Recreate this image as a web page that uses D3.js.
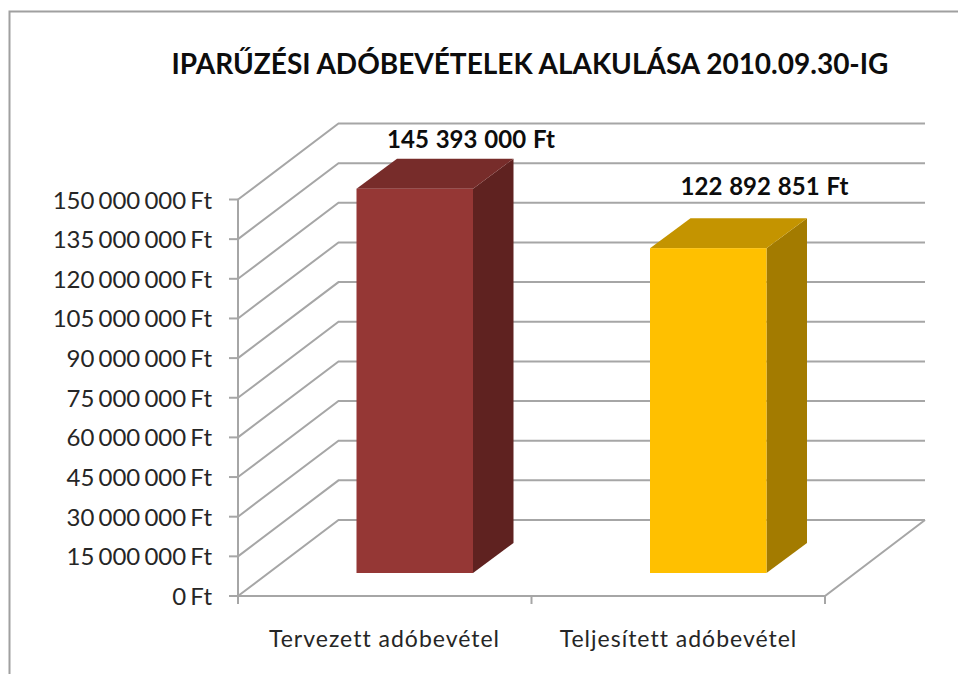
<!DOCTYPE html>
<html><head><meta charset="utf-8">
<script src="https://cdn.jsdelivr.net/npm/d3@7"></script>
<style>html,body{margin:0;padding:0;background:#fff}svg{display:block}text{font-family:Lato,"Open Sans",sans-serif}</style>
</head><body><svg id="c" width="958" height="674"></svg>
<script>
const titleText = "IPARŰZÉSI ADÓBEVÉTELEK ALAKULÁSA 2010.09.30-IG";
const categories = ["Tervezett adóbevétel", "Teljesített adóbevétel"];
const values = [145393000, 122892851];
const valueLabels = ["145 393 000 Ft", "122 892 851 Ft"];
const tickValues = [0,15,30,45,60,75,90,105,120,135,150].map(d => d*1e6);
const tickLabels = ["0 Ft","15 000 000 Ft","30 000 000 Ft","45 000 000 Ft","60 000 000 Ft","75 000 000 Ft","90 000 000 Ft","105 000 000 Ft","120 000 000 Ft","135 000 000 Ft","150 000 000 Ft"];
const frontColors = ["#953735","#FFC000"];
const topColors = ["#772C2A","#C49400"];
const sideColors = ["#5F2220","#A37B00"];

const svg = d3.select("#c");
const gridCol = "#a6a6a6";
const y = d3.scaleLinear().domain([0,150e6]).range([596,199.5]);
const x = d3.scaleBand().domain(categories).range([238,825]);
const depth = {dx:100.5, dy:-76};
const barDepth = {dx:40.5, dy:-30};
const floorShift = {dx:30, dy:-23}; // bar front sits inside the floor
const barW = 116.5;

// frame
svg.append("path").attr("d","M9.5,674V11.5H958").attr("fill","none").attr("stroke","#a0a0a0").attr("stroke-width",2);

// gridlines + wall diagonals
const g = svg.append("g").attr("fill","none").attr("stroke",gridCol).attr("stroke-width",2);
g.selectAll("path.g").data(tickValues).join("path").attr("class","g")
 .attr("d",d=>`M238,${y(d)}L${238+depth.dx},${y(d)+depth.dy}H925`);
// floor
g.append("path").attr("d",`M238,${y(0)}H825L925,${y(0)+depth.dy}`);
g.append("path").attr("d",`M238,${y(150e6)}V604`);
// ticks
g.selectAll("path.t").data(tickValues).join("path").attr("class","t")
 .attr("d",d=>`M229,${y(d)}H238`);
g.selectAll("path.xt").data([x(categories[1]),825]).join("path").attr("class","xt")
 .attr("d",d=>`M${d},596V604`);

// bars
const bars = svg.append("g");
categories.forEach((c,i)=>{
  const bx = x(c)+ (x.bandwidth()-barW)/2 + floorShift.dx;
  const h = y(0)-y(values[i]);
  const base = y(0)+floorShift.dy;
  const top = base-h;
  const gb = bars.append("g");
  gb.append("path").attr("fill",sideColors[i])
    .attr("d",`M${bx+barW},${top}l${barDepth.dx},${barDepth.dy}V${base+barDepth.dy}L${bx+barW},${base}Z`);
  gb.append("path").attr("fill",topColors[i])
    .attr("d",`M${bx},${top}l${barDepth.dx},${barDepth.dy}H${bx+barW+barDepth.dx}L${bx+barW},${top}Z`);
  gb.append("rect").attr("x",bx).attr("y",top).attr("width",barW).attr("height",h).attr("fill",frontColors[i]);
});

// axis labels
svg.append("g").selectAll("text").data(tickValues).join("text")
 .attr("x",212).attr("y",d=>y(d)+9).attr("text-anchor","end").attr("font-size",24).attr("word-spacing",-2).attr("fill","#262626")
 .text((d,i)=>tickLabels[i]);
const catX=[384.5,678.5];
svg.append("g").selectAll("text").data(categories).join("text")
 .attr("x",(d,i)=>catX[i]).attr("y",647).attr("text-anchor","middle").attr("font-size",23).attr("fill","#262626")
 .attr("letter-spacing",1).text(d=>d);

// data labels
const lblX=[471,764.5], lblY=[148,195];
svg.append("g").selectAll("text").data(valueLabels).join("text")
 .attr("x",(d,i)=>lblX[i]).attr("y",(d,i)=>lblY[i]).attr("text-anchor","middle").attr("font-size",24).attr("font-weight",700).attr("word-spacing",1).attr("fill","#0d0d0d")
 .text(d=>d);

// title
svg.append("text").attr("x",530).attr("y",74).attr("text-anchor","middle").attr("font-size",28).attr("font-weight",700).attr("fill","#0d0d0d").text(titleText);
</script></body></html>
